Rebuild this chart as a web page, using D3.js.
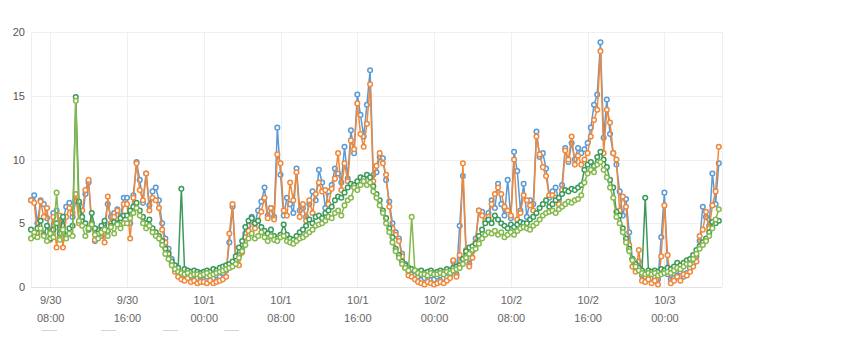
<!DOCTYPE html>
<html>
<head>
<meta charset="utf-8">
<script src="https://cdn.jsdelivr.net/npm/d3@7/dist/d3.min.js"></script>
<style>
  html, body { margin: 0; padding: 0; background: #fff; }
  svg { display: block; font-family: "Liberation Sans", Arial, Helvetica, sans-serif; }
</style>
</head>
<body>
<svg id="chart" width="858" height="337"></svg>
<script>
// Readings every 20 minutes, starting 9/30 06:00
const startTime = new Date(2019, 8, 30, 6, 0);
const stepMinutes = 20;
const yTicks = [0, 5, 10, 15, 20];

const blueValues = [
  6.8, 7.2, 5.0, 6.8, 6.5, 5.4, 4.2, 5.8, 6.0, 4.5, 5.2, 6.3, 6.6, 5.5, 6.8, 6.5, 5.2, 7.3, 8.2, 5.0,
  3.6, 4.5, 4.0, 5.0, 6.5, 5.5, 5.8, 6.1, 5.5, 7.0,
  7.0, 5.0, 7.2, 9.8, 8.4, 6.6, 8.9, 6.4, 7.5, 7.8, 6.8, 5.0, 3.8, 3.0, 2.2, 1.6, 1.2, 1.0, 0.9, 1.1,
  0.8, 0.9, 0.7, 0.8,
  0.9, 0.8, 1.0, 0.7, 0.9, 0.8, 1.1, 1.3, 3.5, 6.3, 2.0, 2.5, 3.0, 4.2, 4.8, 5.5, 5.0, 6.0, 6.7, 7.8,
  5.6, 6.2, 5.5, 12.5, 8.8,
  5.6, 7.0, 6.5, 5.8, 9.3, 6.0, 6.2, 5.5, 6.5, 7.5, 6.8, 9.2, 8.2, 6.2, 7.5, 8.0, 9.3, 8.9, 8.2, 11.0,
  8.5, 12.3, 10.5, 15.1, 13.5, 11.8, 14.3, 17.0,
  8.8, 9.0, 10.2, 10.1, 8.4, 6.7, 5.0, 4.3, 3.8, 2.6, 1.8, 1.2,
  1.0, 0.9, 0.8, 0.9, 0.7, 0.8, 0.9, 0.6, 0.8, 0.9, 0.7,
  0.8, 1.0, 2.0, 1.0, 4.8, 8.7, 2.6, 1.8, 2.8, 3.8, 6.0, 5.9, 5.5, 5.8, 6.8, 6.2, 8.1, 6.5, 5.6, 8.4,
  5.4, 10.6, 9.1, 6.0, 8.1, 5.5, 6.8, 6.5, 12.2, 10.2, 10.5, 9.3, 7.0, 7.5, 7.8, 6.8, 8.0,
  10.9, 9.8, 11.3, 10.0, 10.9, 10.5, 10.8, 11.3, 12.5, 14.3, 15.1, 19.2, 11.7, 14.7, 12.0, 10.5, 9.6,
  7.5, 5.6, 6.9, 4.3, 2.2, 1.5, 2.0, 0.9, 0.8, 0.9, 0.7, 0.8, 0.6, 3.9, 7.4, 1.0, 0.6, 0.7, 0.9, 1.2,
  0.8, 1.1, 1.5, 1.8, 2.4, 3.6, 6.3, 5.5, 4.8, 8.9, 6.5, 9.7
];

const orangeValues = [
  6.8, 6.6, 4.2, 6.7, 5.5, 6.2, 3.7, 5.5, 3.1, 5.6, 3.1, 5.5, 6.2, 5.8, 7.3, 5.0, 6.0, 7.6, 8.4, 4.8,
  3.7, 4.4, 4.2, 3.5, 7.1, 5.0, 5.5, 6.0, 5.2, 6.5,
  6.5, 3.8, 7.0, 9.7, 7.6, 6.8, 8.9, 6.0, 7.0, 6.8, 6.2, 4.5, 3.5, 2.7, 1.9, 1.2, 0.8, 0.6, 0.5, 0.7,
  0.4, 0.5, 0.3, 0.4,
  0.4, 0.3, 0.5, 0.3, 0.4, 0.5, 0.6, 0.8, 4.2, 6.5, 2.1, 1.7, 2.7, 3.9, 4.4, 5.2, 4.6, 5.2, 5.9, 7.0,
  5.4, 6.2, 5.3, 10.4, 9.7,
  6.0, 5.6, 8.2, 6.8, 9.0, 5.5, 6.5, 5.2, 6.8, 5.8, 7.3, 8.2, 7.5, 7.6, 6.5, 7.7, 8.5, 10.5, 7.6, 9.7,
  8.3, 11.5, 10.8, 14.4, 12.0, 11.0, 12.8, 15.9,
  8.3, 9.5, 10.5, 9.7, 8.8, 6.3, 4.6, 4.1, 3.6, 2.4, 1.5, 0.9,
  0.8, 0.6, 0.4, 0.3, 0.2, 0.4, 0.3, 0.2, 0.3, 0.4, 0.3,
  0.5, 0.7, 2.1, 0.8, 2.5, 9.7, 2.9, 1.6, 2.3, 3.5, 6.0, 5.6, 5.2, 5.5, 6.5, 7.3, 7.8, 7.3, 6.3, 6.0,
  5.6, 10.0, 5.3, 5.8, 7.2, 6.8, 6.4, 6.0, 11.8, 10.4, 9.4, 8.7, 7.2, 7.2, 7.0, 6.5, 7.6,
  10.7, 10.0, 11.8, 9.6, 10.3, 9.6, 10.0, 10.5, 11.8, 13.1, 13.9, 18.5, 10.5, 13.9, 12.9, 10.5, 10.0,
  6.0, 7.1, 6.3, 3.3, 1.6, 1.2, 2.9, 0.5, 0.4, 0.6, 0.3, 0.5, 0.2, 2.4, 6.4, 2.5, 0.3, 0.5, 0.8, 0.5,
  1.0, 0.9, 1.2, 1.6, 2.0, 4.0, 4.5, 5.9, 4.6, 6.4, 7.5, 11.0
];

const greenValues = [
  4.5, 4.0, 4.6, 5.2, 4.1, 4.8, 3.8, 4.5, 5.0, 4.2, 5.5, 4.0, 4.6, 4.8, 14.9, 6.7, 5.5, 5.0, 4.5, 5.8,
  4.6, 4.2, 4.8, 5.2, 4.4, 4.8, 5.1, 5.0, 5.4, 5.6,
  5.6, 6.0, 6.3, 6.6, 6.0, 5.5, 5.0, 5.3, 4.6, 4.3, 4.0, 3.6, 3.0, 2.6, 2.0, 1.7, 1.5, 7.7, 1.4, 1.3,
  1.2, 1.3, 1.2, 1.1,
  1.2, 1.3, 1.2, 1.4, 1.3, 1.5, 1.6, 1.7, 1.8, 2.0, 2.4, 3.1, 3.6, 4.7, 5.2, 5.4, 5.0, 5.2, 4.7, 4.4,
  4.2, 4.5, 4.0, 3.8, 4.1,
  4.9, 4.1, 3.8, 3.7, 4.0, 4.3, 4.5, 4.8, 5.3, 5.0, 5.5, 5.6, 5.4, 5.8, 6.0, 6.3, 6.8, 7.1, 7.0, 7.4,
  7.8, 8.1, 8.0, 8.3, 8.6, 8.5, 8.8, 8.6,
  7.9, 7.3, 6.8, 6.0, 5.4, 4.6, 3.9, 3.0, 2.5, 2.0, 1.7, 1.5,
  1.4, 1.3, 1.2, 1.3, 1.1, 1.2, 1.3, 1.1, 1.2, 1.3, 1.2, 1.4, 1.3, 1.5,
  1.6, 1.7, 2.2, 2.8, 3.1, 3.2, 3.4, 4.0, 4.5, 5.0, 5.3, 5.0, 5.6, 5.3, 5.0, 4.8, 4.6, 4.9, 4.7, 4.9,
  5.1, 5.0, 5.0, 5.3, 5.5, 5.8, 6.2, 6.5, 6.8, 6.3, 6.5, 6.8, 7.0, 7.3, 7.6, 7.5, 7.7, 7.6, 7.8, 8.0,
  9.2, 9.6,
  9.8, 9.5, 10.2, 10.6, 10.0, 9.4, 8.4, 7.8, 5.9, 5.6, 4.6, 3.8, 3.0, 2.2, 1.8, 1.5, 1.3,
  7.0, 1.3, 1.2, 1.3, 1.2, 1.4, 1.3, 1.5, 1.4, 1.6, 1.9, 1.7, 1.9, 2.1, 2.2, 2.5, 2.9, 3.2, 3.5, 3.8,
  4.3, 5.1, 5.0, 5.2
];

const oliveValues = [
  3.8, 4.3, 3.9, 4.6, 4.0, 3.6, 4.2, 3.9, 7.4, 3.7, 4.5, 3.8, 4.2, 4.0, 14.6, 5.2, 4.8, 4.0, 4.6, 4.9,
  4.1, 3.8, 4.3, 4.5, 4.0, 4.7, 4.2, 4.9, 4.6, 5.0,
  5.0, 5.4, 5.8, 6.2, 5.6, 5.0, 4.6, 4.8, 4.3, 4.0, 3.8, 3.3, 2.6, 2.2, 1.7, 1.4, 1.2, 1.1, 1.0, 1.1,
  0.9, 1.0, 1.0, 0.9,
  1.0, 1.1, 0.9, 1.0, 1.1, 1.2, 1.3, 1.4, 1.5, 1.6, 1.8, 2.3, 2.8, 3.3, 3.8, 4.2, 3.8, 4.0, 4.3, 3.9,
  3.6, 4.0, 3.7, 3.6, 3.9,
  4.0, 3.6, 3.5, 3.4, 3.6, 3.8, 3.9, 4.1, 4.3, 4.5, 4.8, 4.9, 5.0, 5.2, 5.5, 5.4, 5.8, 6.0, 5.6, 6.4,
  6.8, 7.0, 7.8, 7.6, 8.0, 8.3, 8.0, 8.2,
  7.5, 7.0, 6.4, 5.8, 5.0, 4.3, 3.5, 2.8, 2.3, 1.8, 1.5, 1.3,
  5.5, 1.3, 1.1, 1.0, 1.0, 0.9, 1.1, 1.0, 1.0, 1.1, 1.0, 1.2, 1.1, 1.3,
  1.4, 1.5, 1.8, 2.3, 2.6, 2.9, 3.0, 3.4, 3.8, 4.1, 4.3, 4.2, 4.4, 4.1, 4.3, 3.9, 4.1, 4.3, 4.1, 4.4,
  4.6, 4.7, 4.6, 4.5, 4.8, 5.0, 5.3, 5.6, 5.8, 5.9, 6.0, 5.8, 6.1, 6.3, 6.5, 6.7, 6.6, 6.8, 6.9, 7.2,
  8.2, 8.9,
  9.2, 9.0, 9.6, 9.8, 9.2, 8.6, 7.8, 7.0, 5.5, 5.0, 4.3, 3.5, 2.8, 2.1, 1.6, 1.3, 1.1,
  1.0, 1.1, 1.0, 1.1, 0.9, 1.0, 1.1, 1.2, 1.1, 1.3, 1.5, 1.4, 1.6, 1.8, 1.8, 2.2, 2.6, 3.0, 3.3, 3.6,
  4.0, 4.6, 5.3, 6.1
];

const seriesColors = ["#5b9bd5", "#f0883a", "#3b9a5a", "#86b94c"];
const seriesList = [blueValues, orangeValues, greenValues, oliveValues];

const svg = d3.select("#chart");
const margin = { left: 31, right: 136, top: 32, bottom: 50 };
const width = 858, height = 337;

const endTime = d3.timeHour.offset(startTime, 72);
const x = d3.scaleTime()
  .domain([startTime, endTime])
  .range([margin.left, width - margin.right]);
const y = d3.scaleLinear()
  .domain([0, 20])
  .range([height - margin.bottom, margin.top]);

const timeAt = i => d3.timeMinute.offset(startTime, i * stepMinutes);
const xTicks = d3.timeHour.every(8).range(startTime, endTime);

// plot frame and gridlines
const grid = svg.append("g");
grid.selectAll("line.h").data(yTicks).join("line")
  .attr("x1", x.range()[0]).attr("x2", x.range()[1])
  .attr("y1", d => Math.round(y(d)) + 0.5).attr("y2", d => Math.round(y(d)) + 0.5)
  .attr("stroke", d => d === 0 ? "#e2e2e2" : "#efefef").attr("stroke-width", 1);
grid.selectAll("line.v").data(xTicks).join("line")
  .attr("x1", d => Math.round(x(d)) + 0.5).attr("x2", d => Math.round(x(d)) + 0.5)
  .attr("y1", y(20)).attr("y2", y(0))
  .attr("stroke", "#efefef").attr("stroke-width", 1);
grid.selectAll("line.edge").data(x.range()).join("line")
  .attr("x1", d => Math.round(d) + 0.5).attr("x2", d => Math.round(d) + 0.5)
  .attr("y1", y(20)).attr("y2", y(0))
  .attr("stroke", "#efefef").attr("stroke-width", 1);

// y axis labels
const yAxis = d3.axisLeft(y).tickValues(yTicks).tickSize(0).tickPadding(6);
svg.append("g")
  .attr("transform", `translate(${margin.left},0)`)
  .call(yAxis)
  .call(g => g.select(".domain").remove())
  .call(g => g.selectAll("text")
    .attr("fill", "#555").attr("font-size", "11px")
    .attr("font-family", "Liberation Sans, Arial, sans-serif"));

// x axis labels: date on the first line, time on the second
const fmtDate = d3.timeFormat("%-m/%-d");
const fmtTime = d3.timeFormat("%H:%M");
const xAxis = d3.axisBottom(x).tickValues(xTicks).tickSize(0).tickFormat("");
const xg = svg.append("g")
  .attr("transform", `translate(0,${y(0)})`)
  .call(xAxis)
  .call(g => g.select(".domain").remove());
xg.selectAll(".tick").each(function(d) {
  const t = d3.select(this);
  t.select("text").remove();
  t.append("text").attr("y", 17).attr("text-anchor", "middle")
    .attr("fill", "#666").attr("font-size", "11px").text(fmtDate(d));
  t.append("text").attr("y", 35).attr("text-anchor", "middle")
    .attr("fill", "#666").attr("font-size", "11px").text(fmtTime(d));
});

// series lines with ring markers
const line = d3.line()
  .x((d, i) => x(timeAt(i)))
  .y(d => y(d));

seriesList.forEach((values, s) => {
  const g = svg.append("g");
  g.append("path")
    .attr("d", line(values))
    .attr("fill", "none")
    .attr("stroke", seriesColors[s])
    .attr("stroke-width", 1.5)
    .attr("stroke-linejoin", "round");
  g.selectAll("circle").data(values).join("circle")
    .attr("cx", (d, i) => x(timeAt(i)))
    .attr("cy", d => y(d))
    .attr("r", 2.3)
    .attr("fill", "#fff")
    .attr("stroke", seriesColors[s])
    .attr("stroke-width", 1.5);
});

// legend swatches along the bottom edge
const legendX = [42, 101, 163, 224];
svg.append("g").selectAll("line").data(legendX).join("line")
  .attr("x1", d => d).attr("x2", d => d + 15)
  .attr("y1", 330.5).attr("y2", 330.5)
  .attr("stroke", "#d4d4d4").attr("stroke-width", 1);
</script>
</body>
</html>
